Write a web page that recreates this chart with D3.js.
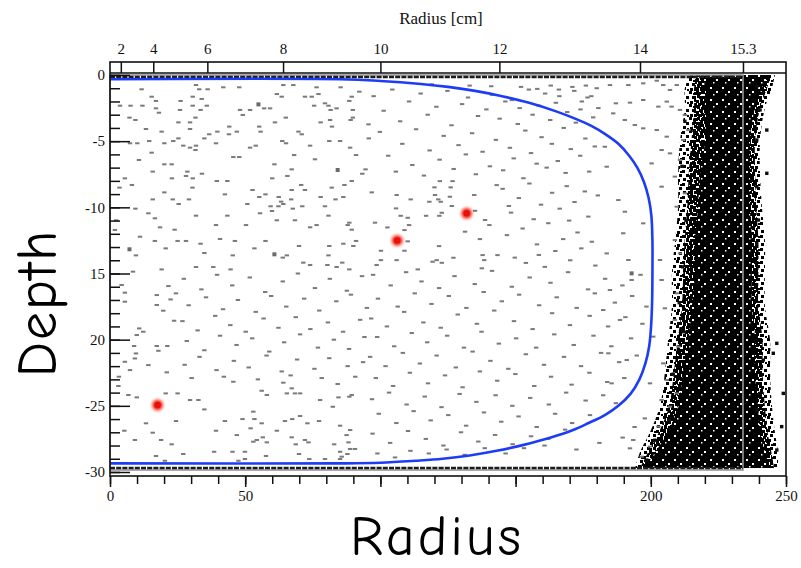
<!DOCTYPE html>
<html>
<head>
<meta charset="utf-8">
<script src="https://cdn.jsdelivr.net/npm/d3@7"></script>
<style>
  html, body { margin: 0; padding: 0; background: #fff; }
  svg { display: block; }
</style>
</head>
<body>
<svg id="chart" width="801" height="568"></svg>
<script>
// ---- axis definitions ----
const bottomTickValues = [0, 50, 100, 150, 200, 250];
const bottomTickLabels = ["0", "50", "", "", "200", "250"];
const depthTickValues = [0, -5, -10, -15, -20, -25, -30];
const depthTickLabels = ["0", "-5", "-10", "15", "20", "-25", "-30"];
const radiusCmTicks = [2, 4, 6, 8, 10, 12, 14, 15.3];
const radiusCmLabels = ["2", "4", "6", "8", "10", "12", "14", "15.3"];

// detector outline: r^2 = 15.3^2 cm^2, depth 0 .. -29.85
const detectorR2 = 234.09;
const detectorBottom = -29.85;

// ---- boundary curve (r^2, depth) ----
const curveR = [0, 85, 100, 115, 125, 135, 145, 155, 165, 172, 178, 183, 188, 192, 195, 197.5, 199.2, 200.2, 200.6, 200.6, 200.5, 200.1, 199.4, 198, 195.8, 192.5, 188, 183, 177, 171, 163, 153, 143, 133, 123, 113, 100, 85, 0];
const curveD = [-0.32, -0.32, -0.45, -0.68, -0.9, -1.2, -1.6, -2.1, -2.75, -3.3, -3.85, -4.45, -5.2, -6.1, -7.0, -8.1, -9.3, -10.6, -12.5, -15, -17, -19, -20.5, -21.8, -23.0, -24.1, -25.0, -25.7, -26.3, -26.85, -27.4, -27.95, -28.4, -28.75, -29.0, -29.15, -29.3, -29.35, -29.35];

// ---- highlighted events ----
const eventR = [17.6, 106.2, 131.9];
const eventD = [-24.94, -12.5, -10.45];

// ---- dense wall band (r^2 edges per depth) ----
const bandD = [0, -1, -2.5, -5, -7.5, -10, -12.5, -15, -17.5, -20, -22.5, -25, -27, -28.5, -29.7];
const bandOuterLeft = [214.5, 212.6, 212.6, 210.8, 210.1, 210.1, 209.0, 207.8, 207.8, 206.4, 205.2, 203.4, 199.7, 196.0, 194.2];
const bandMidLeft = [217.0, 216.0, 216.0, 215.0, 214.0, 213.5, 212.5, 212.0, 211.5, 210.0, 208.5, 206.8, 203.0, 199.0, 196.0];
const bandInnerLeft = [219.3, 220.0, 220.0, 220.0, 218.2, 217.5, 216.3, 216.3, 215.2, 213.8, 211.9, 210.1, 206.4, 201.6, 197.9];
const bandInnerRight = [243.3, 241.1, 238.5, 236.7, 236.7, 236.7, 237.4, 237.4, 237.4, 238.5, 238.5, 239.6, 240.4, 242.2, 244.1];
const bandMidRight = [244.5, 243.0, 240.4, 238.6, 238.6, 239.0, 239.8, 239.8, 239.8, 241.3, 241.3, 242.2, 243.2, 244.6, 245.6];
const bandOuterRight = [245.9, 244.8, 242.2, 240.4, 240.4, 241.1, 242.2, 242.2, 242.2, 244.1, 244.1, 244.8, 245.9, 247.0, 247.0];

// ---- rows of hits along the top and bottom faces ----
const faceRowD = [-0.15, -29.7];

// ---- isolated hits (r^2, depth) ----
const sparseHits = [
  [11.7,-1.08],[31.8,-0.76],[33.0,-1.08],[36.1,-1.08],[41.9,-0.93],[47.8,-0.93],[64.1,-0.76],[67.8,-0.76],[76.4,-0.93],[85.3,-0.93],[92.2,-1.26],[95.3,-0.38],
  [15.4,-1.64],[17.0,-1.96],[26.1,-1.96],[30.6,-1.64],[33.9,-1.81],[3.7,-2.32],[7.6,-2.32],[12.0,-2.32],[17.0,-2.52],[18.1,-2.85],[25.9,-2.64],[30.6,-2.32],[33.5,-2.64],[35.8,-2.32],
  [48.1,-2.64],[49.1,-3.02],[51.8,-2.64],[57.0,-2.52],[59.2,-2.52],[61.7,-1.44],[63.5,-1.64],[72.1,-1.64],[74.6,-1.64],[77.1,-1.44],[75.5,-2.32],[79.5,-2.14],[80.8,-2.32],[81.6,-2.64],[83.8,-2.52],[88.5,-1.96],[89.4,-1.64],[89.8,-2.64],
  [7.2,-3.22],[9.4,-3.4],[13.3,-4.08],[19.1,-4.28],[25.3,-3.58],[29.6,-3.58],[31.6,-3.22],[29.6,-4.08],[44.1,-3.9],[46.9,-4.28],[44.0,-4.48],[55.2,-3.9],[55.7,-4.28],[61.0,-3.58],[65.0,-3.22],[69.7,-4.28],[70.9,-4.48],[77.9,-3.58],[81.4,-3.4],[82.1,-3.9],[89.0,-3.4],[89.8,-3.22],[95.6,-3.73],
  [7.4,-5.16],[10.1,-5.16],[14.5,-4.99],[20.1,-5.16],[23.4,-4.99],[25.3,-4.79],[27.1,-5.34],[29.6,-5.49],[31.6,-5.67],[31.8,-5.34],[34.9,-4.79],[36.7,-4.48],[39.2,-5.16],[39.7,-4.28],[51.8,-5.49],[53.9,-5.34],[63.7,-4.99],[65.1,-5.16],[74.0,-5.34],[81.1,-4.99],[85.1,-4.99],[88.8,-5.49],[95.7,-4.79],
  [15.4,-5.87],[10.7,-6.42],[45.6,-6.2],[47.8,-6.2],[20.1,-6.75],[22.8,-6.75],[60.8,-6.75],[67.2,-7.13],[68.1,-6.05],[75.8,-6.37],[91.0,-6.05],[93.3,-7.46],[94.5,-7.13],
  [5.5,-7.81],[15.8,-7.3],[28.6,-7.3],[28.1,-7.63],[30.6,-7.81],[34.0,-7.46],[22.9,-7.81],[39.5,-8.01],[43.4,-8.01],[60.0,-7.81],[65.6,-7.63],[70.7,-8.31],[72.1,-8.69],[67.2,-8.69],[82.0,-8.51],[86.7,-8.31],[89.4,-8.01],
  [3.5,-8.51],[8.1,-8.31],[20.1,-8.87],[30.5,-8.51],[42.5,-9.02],[52.7,-8.69],[55.2,-9.22],[57.5,-9.02],[62.4,-9.22],[63.3,-9.57],[64.1,-9.75],[67.0,-9.4],[62.3,-9.92],[67.6,-10.1],[71.1,-9.92],[77.9,-9.22],[79.5,-9.92],[83.4,-9.4],[86.3,-9.22],[15.8,-9.4],[23.2,-9.4],[25.4,-9.75],[29.2,-9.4],[50.8,-9.75],[59.4,-9.92],[59.9,-10.28],
  [9.4,-10.1],[14.2,-10.45],[16.6,-10.83],[31.8,-10.63],[39.2,-11.34],[43.4,-10.63],[50.3,-11.34],[55.5,-10.45],[61.7,-10.98],[68.4,-10.98],[74.0,-11.51],[76.4,-11.34],[80.8,-10.63],[88.5,-11.16],[89.4,-11.69],[87.9,-11.34],[18.5,-11.51],[23.9,-11.69],[2.3,-10.98],[1.8,-11.71],
  [11.1,-12.22],[16.6,-12.54],[20.6,-13.1],[25.0,-12.54],[28.1,-12.54],[33.5,-12.75],[40.7,-12.39],[46.2,-12.54],[53.4,-13.1],[57.5,-12.54],[69.9,-12.92],[81.1,-12.92],[86.3,-12.75],[90.0,-12.92],[91.0,-12.54],[9.6,-13.63],[34.9,-13.45],[45.4,-13.63],[63.9,-13.8],[65.4,-13.63],[71.5,-14.18],[74.0,-14.36],[80.8,-13.63],[85.9,-14.18],[19.1,-14.69],[31.8,-14.51],[38.2,-14.51],[44.6,-14.69],[80.4,-14.36],[83.8,-14.51],[88.5,-14.69],[8.5,-14.86],
  [4.3,-15.87],[5.5,-16.45],[5.5,-17.13],[17.3,-17.38],[17.3,-16.63],[21.6,-15.95],[19.7,-17.81],[22.4,-16.96],[24.4,-16.5],[23.7,-18.57],[10.8,-19.15],[12.3,-19.4],[9.9,-19.65],[8.9,-20.48],[9.6,-21.04],[9.2,-21.42],[17.3,-20.48],[17.9,-20.84],[21.2,-20.48],[5.5,-21.67],[7.4,-22.3],[14.2,-21.92],[21.0,-22.47],[3.3,-22.8],
  [27.3,-15.4],[33.8,-16.2],[39.6,-15.1],[45.2,-15.9],[51.7,-15.3],[57.4,-16.4],[63.9,-15.6],[69.5,-15.0],[75.8,-16.1],[81.3,-15.4],[87.6,-16.3],[93.2,-15.2],
  [29.1,-17.4],[35.5,-16.8],[41.8,-17.7],[47.3,-17.0],[53.9,-17.9],[59.6,-16.7],[65.2,-17.5],[71.8,-16.9],[77.4,-17.8],[83.7,-17.1],[89.1,-16.6],[95.0,-17.6],
  [26.8,-18.6],[32.4,-19.3],[38.9,-18.2],[44.5,-18.9],[50.2,-19.4],[56.8,-18.4],[62.3,-19.1],[68.7,-18.3],[74.1,-19.2],[80.6,-18.7],[86.2,-19.4],[92.5,-18.5],
  [28.4,-20.1],[34.9,-20.8],[40.7,-19.7],[46.8,-20.4],[52.6,-19.9],[58.9,-20.9],[64.4,-20.2],[70.3,-19.6],[76.9,-20.6],[82.8,-20.0],[88.4,-20.7],[94.1,-19.8],
  [27.6,-21.9],[33.1,-21.3],[39.4,-22.3],[45.8,-21.6],[51.3,-22.1],[57.9,-21.2],[63.5,-22.4],[69.2,-21.5],[75.6,-22.2],[81.1,-21.4],[87.9,-22.0],[93.6,-21.7],
  [30.2,-22.9],[42.1,-22.8],[54.7,-23.0],[66.8,-22.7],[78.3,-22.9],[90.7,-22.8],
  [3.1,-23.5],[6.8,-24.18],[9.9,-24.36],[20.6,-24.06],[25.0,-24.06],[29.6,-24.56],[32.7,-24.56],[34.9,-25.27],[45.6,-23.18],[56.1,-23.86],[58.0,-24.18],[64.1,-23.25],[65.4,-24.06],[67.2,-23.68],[68.4,-24.06],[70.3,-24.06],[77.7,-24.56],[82.4,-25.07],[84.5,-24.36],[84.2,-23.35],[88.5,-24.31],[89.4,-24.18],
  [13.3,-26.32],[24.4,-26.15],[5.3,-26.88],[15.8,-27.03],[39.2,-26.88],[42.5,-26.15],[49.0,-26.0],[53.0,-25.44],[53.4,-26.0],[56.1,-26.32],[61.7,-26.88],[64.7,-26.15],[67.4,-26.0],[70.3,-25.77],[73.0,-26.32],[77.3,-26.15],[85.1,-26.5],[87.5,-27.21],[88.8,-26.83],
  [9.2,-27.58],[18.9,-27.58],[22.8,-27.91],[46.9,-27.21],[52.0,-26.7],[53.0,-27.71],[54.3,-27.58],[56.5,-27.38],[58.0,-27.76],[67.2,-27.38],[68.7,-27.91],[72.1,-27.58],[73.4,-27.76],[82.9,-27.91],[88.2,-27.76],[88.8,-28.26],[90.6,-28.26],
  [27.1,-28.64],[38.5,-28.47],[45.3,-28.47],[49.9,-28.47],[57.7,-28.79],[69.9,-28.64],[85.1,-28.47],[85.7,-28.84],[87.8,-28.64],[17.0,-28.79],[20.3,-29.15],[49.9,-29.02],[73.7,-29.02],[79.5,-29.02],[85.1,-29.02],[47.5,-29.15],
  [97.5,-1.6],[99.8,-4.3],[101.2,-2.7],[102.9,-6.1],[104.4,-1.1],[105.7,-7.3],[107.3,-3.5],[108.1,-5.2],[110.6,-2.0],[111.8,-6.8],[113.2,-4.1],[114.9,-1.4],[116.1,-7.6],[117.5,-3.0],[118.2,-5.7],[120.7,-2.4],[121.9,-6.4],[123.4,-4.6],[124.8,-1.2],[126.3,-3.8],[127.1,-7.1],[128.9,-5.3],[130.2,-2.2],[131.6,-6.0],[132.4,-1.7],[133.9,-4.4],[135.3,-7.5],[136.1,-3.1],[137.8,-5.8],[139.2,-2.6],
  [140.5,-6.9],[141.3,-1.5],[142.7,-4.9],[144.1,-3.3],[145.4,-7.2],[146.2,-2.0],[147.9,-5.5],[148.6,-1.9],[149.3,-6.3],[150.8,-3.7],[151.5,-2.5],[152.9,-7.8],[153.6,-4.2],[154.9,-1.1],[155.7,-5.9],[156.3,-3.0],[157.8,-6.7],[158.4,-2.3],[159.6,-4.7],[160.9,-1.4],[161.5,-7.0],[162.8,-3.4],[163.4,-5.2],[164.9,-2.1],[165.6,-6.5],[166.2,-1.6],[167.8,-4.0],[168.5,-7.4],[169.1,-2.8],[170.4,-5.6],
  [171.7,-1.2],[172.3,-3.6],[173.9,-6.1],[174.5,-2.0],[175.8,-4.8],[176.6,-1.7],[177.2,-7.3],[178.7,-3.2],[179.3,-5.4],[180.6,-2.5],[171.0,-0.9],[163.0,-0.8],[152.0,-0.9],[141.0,-0.85],[133.0,-0.8],[119.0,-0.7],[176.0,-0.8],[180.0,-1.0],[158.0,-1.05],[166.0,-1.1],[178.0,-1.6],[174.0,-2.6],
  [96.8,-8.87],[106.0,-9.07],[111.2,-9.4],[120.0,-8.49],[122.0,-8.02],[126.0,-8.49],[126.7,-8.02],[118.1,-9.58],[120.2,-9.07],[121.4,-9.4],[122.3,-9.58],[125.7,-9.2],[126.4,-9.9],[134.7,-9.07],[143.0,-8.32],
  [105.8,-10.08],[107.5,-10.64],[110.1,-10.79],[116.9,-10.64],[121.8,-10.64],[122.7,-10.41],[135.0,-10.26],[98.0,-11.16],[102.6,-11.52],[108.9,-11.72],[110.6,-11.34],[110.1,-12.57],[131.3,-11.84],[138.7,-10.96],[140.3,-11.34],[136.8,-12.4],
  [100.2,-13.28],[108.9,-13.28],[121.7,-12.93],[100.2,-13.99],[106.0,-13.99],[98.6,-14.36],[119.3,-14.11],[120.8,-13.99],[122.7,-14.19],[127.0,-13.81],[137.8,-13.61],[138.4,-13.99],[143.3,-13.61],[137.5,-14.61],[113.8,-14.69],
  [145.2,-8.6],[146.8,-12.1],[148.3,-10.4],[149.7,-13.8],[151.2,-9.3],[152.6,-11.6],[153.8,-14.2],[155.1,-8.2],[156.7,-10.9],[157.9,-12.8],[159.4,-9.8],[160.8,-14.5],[162.1,-11.2],[163.5,-8.9],[164.7,-13.3],[166.3,-10.1],[167.6,-12.4],[168.9,-8.4],[170.2,-14.0],[171.8,-9.6],[172.9,-11.9],[174.3,-13.1],[175.6,-8.8],[176.9,-10.7],[178.2,-12.6],[179.5,-14.4],[180.4,-9.1],[147.5,-9.9],[158.6,-13.6],[169.8,-11.0],
  [97.3,-15.1],[103.8,-15.9],[109.5,-14.9],[115.2,-15.6],[121.7,-16.1],[127.4,-15.2],[134.9,-15.8],[141.3,-14.8],[148.6,-16.0],[155.2,-15.3],[162.9,-15.7],[169.4,-14.9],[176.8,-16.2],[183.1,-15.4],[189.5,-15.9],[196.2,-15.1],
  [99.1,-16.9],[106.4,-17.5],[112.7,-16.5],[118.9,-17.3],[125.3,-16.7],[131.8,-17.6],[138.2,-16.4],[144.9,-17.1],[151.3,-16.6],[158.7,-17.4],[165.2,-16.8],[172.6,-17.6],[179.3,-16.5],[186.7,-17.2],[193.1,-16.7],[198.4,-17.5],
  [96.6,-18.4],[102.4,-19.0],[108.8,-17.9],[115.9,-18.7],[122.3,-19.1],[128.6,-18.1],[135.7,-18.8],[142.1,-17.8],[149.4,-18.6],[156.3,-19.2],[163.5,-18.0],[170.1,-18.9],[177.4,-18.2],[184.2,-19.0],[190.6,-18.3],[196.9,-18.8],
  [98.8,-19.8],[105.1,-20.5],[111.6,-19.5],[117.3,-20.2],[124.7,-19.7],[130.9,-20.6],[137.4,-19.4],[143.8,-20.3],[150.2,-19.9],[157.6,-20.6],[164.3,-19.6],[171.5,-20.4],[178.8,-19.7],[185.4,-20.5],[192.7,-19.9],
  [96.2,-21.3],[101.9,-22.0],[108.3,-21.0],[114.6,-21.8],[120.8,-21.2],[127.9,-22.1],[134.1,-20.9],[140.7,-21.6],[147.3,-22.2],[153.8,-21.1],[160.5,-21.9],[167.9,-21.3],[174.2,-22.0],[181.6,-21.0],[188.3,-21.7],[194.8,-21.2],
  [98.3,-22.9],[104.7,-23.5],[110.9,-22.5],[117.6,-23.3],[123.9,-22.7],[130.4,-23.6],[136.8,-22.4],[143.2,-23.1],[149.9,-22.6],[156.9,-23.5],[163.1,-22.8],[170.7,-23.4],[177.3,-22.5],[183.9,-23.2],[190.2,-22.9],
  [96.9,-24.5],[103.2,-24.0],[109.7,-24.9],[116.4,-24.3],[122.6,-25.1],[129.3,-24.1],[135.5,-24.7],[142.6,-24.2],[148.8,-25.0],[155.4,-24.4],[162.3,-24.9],[168.7,-24.0],[175.9,-24.6],[182.4,-24.2],[187.1,-24.8],
  [99.4,-25.6],[105.9,-26.3],[112.3,-25.4],[118.6,-26.1],[125.1,-25.7],[131.7,-26.5],[138.3,-25.5],[144.7,-26.2],[151.1,-25.8],[157.8,-26.6],[164.6,-25.6],[170.9,-26.3],[177.5,-25.7],
  [97.1,-27.1],[103.6,-27.8],[110.2,-26.9],[116.8,-27.5],[123.3,-28.0],[129.8,-27.0],[136.2,-27.7],[142.4,-27.2],[148.9,-27.9],[155.7,-27.3],[162.1,-27.5],[168.3,-26.8],
  [98.9,-28.6],[105.4,-28.9],[111.1,-28.4],[117.9,-28.6],[124.5,-28.3],[131.2,-28.7],[138.6,-28.2],[146.3,-28.6],[153.1,-28.2],[160.7,-28.0],[172.5,-28.3],[181.0,-27.8],[189.6,-27.4],[194.0,-26.6],
  [184.9,-0.76],[191.7,-0.76],[197.2,-0.63],[202.2,-0.43],[204.6,-0.76],[207.1,-1.13],[209.6,-0.76],[187.1,-2.14],[192.3,-2.09],[197.2,-1.89],[202.8,-2.39],[205.9,-2.01],[207.7,-2.39],[210.8,-2.64],[212.6,-3.02],
  [186.1,-2.9],[190.4,-3.4],[194.1,-3.78],[197.2,-4.03],[202.2,-4.16],[205.9,-4.66],[183.0,-5.42],[200.3,-6.68],[204.0,-5.67],[207.1,-5.92],[208.9,-7.68],[204.0,-8.44],[212.0,-4.91],[213.9,-4.16],[210.8,-6.42],[212.6,-8.94],[209.6,-9.95],
  [190.4,-10.33],[197.2,-11.21],[208.9,-12.47],[203.4,-13.98],[210.8,-13.48],[192.9,-15.49],[204.0,-15.49],[209.6,-16.5],[205.2,-17.63],[208.9,-18.51],[200.9,-19.77],[210.2,-20.53],[204.6,-21.79],[199.7,-23.3],[205.9,-23.05],[209.6,-24.06],[204.0,-24.56],[207.1,-25.06],[197.8,-25.95],[202.8,-26.57],[193.5,-27.58],[199.7,-28.08],[192.3,-28.21],[196.6,-28.84],
  [183.7,-6.93],[188.0,-9.45],[189.8,-11.96],[183.7,-13.48],[191.7,-13.98],[184.9,-16.25],[182.4,-17.76],[188.6,-18.51],[184.3,-21.03],[191.1,-21.54],[185.5,-23.3]
];
const largeHits = [[54.9,-2.22],[84.2,-7.18],[7.2,-13.17],[60.8,-13.55],[192.9,-14.99]];

// hits just outside the dense wall band
const wallHits = [
  [239.2,-0.88],[241.6,-1.38],[240.4,-2.64],[242.9,-4.16],[239.2,-4.91],[242.9,-7.43],[239.2,-8.44],[239.8,-10.96],[239.2,-12.72],[246.6,-20.28],[249.0,-24.06],[248.4,-26.57],[246.6,-28.34],[245.3,-21.03],[241.6,-21.54],[240.4,-24.06],[239.2,-25.31],
  [212.6,-3.5],[211.5,-6.9],[213.0,-11.0],[211.8,-14.5],[210.5,-17.2],[212.2,-19.4],[208.3,-22.6],[206.8,-26.1],[201.5,-27.6],[198.5,-29.1]
];

// ---- drawing ----
const svg = d3.select("#chart");
const x = d3.scaleLinear().domain([0, 250]).range([110, 786]);
const y = d3.scaleLinear().domain([0, -30]).range([75, 472]);
// top axis in cm: position follows r^2
const xcm = d3.scalePow().exponent(2).domain([0, Math.sqrt(250)]).range([110, 786]);

const frameTop = 73, frameBottom = 476, stripTop = 62;
const fontSerif = "'Liberation Serif', 'Times New Roman', serif";

const defs = svg.append("defs");
defs.append("filter").attr("id", "soft").attr("x", "-50%").attr("y", "-50%").attr("width", "200%").attr("height", "200%")
  .append("feGaussianBlur").attr("stdDeviation", 0.45);
defs.append("filter").attr("id", "glow").attr("x", "-100%").attr("y", "-100%").attr("width", "300%").attr("height", "300%")
  .append("feGaussianBlur").attr("stdDeviation", 1.4);

// speckle textures for the dense band
function dotPattern(id, w, h, bg, fg, dots) {
  const p = defs.append("pattern").attr("id", id).attr("patternUnits", "userSpaceOnUse").attr("width", w).attr("height", h);
  if (bg) p.append("rect").attr("width", w).attr("height", h).attr("fill", bg);
  dots.forEach(s => p.append("rect").attr("x", s[0]).attr("y", s[1]).attr("width", s[2]).attr("height", s[2]).attr("fill", fg));
}
dotPattern("sparseSpeckle", 13, 13, null, "#000",
  [[0,0,3],[6,1,3],[10,5,3],[3,5,3],[7,9,3],[1,10,3],[11,11,2],[4,2,2]]);
dotPattern("denseSpeckle", 11, 11, null, "#000",
  [[0,0,3],[3,1,3],[7,0,3],[1,4,3],[5,4,3],[8,3,3],[0,8,3],[4,7,3],[8,8,3],[6,10,2]]);
dotPattern("coreHoles", 12, 12, "#000", "#fff",
  [[2,3,2],[8,7,2],[5,10,1.5]]);

const plot = svg.append("g").attr("filter", "url(#soft)");

// dense wall band: sparse fringe, dense fringe, then core
function bandArea(left, right) {
  return d3.area().y((d, i) => y(bandD[i])).x0((d, i) => x(left[i])).x1((d, i) => x(right[i])).curve(d3.curveCatmullRom)(bandD);
}
plot.append("path").attr("d", bandArea(bandOuterLeft, bandOuterRight)).attr("fill", "url(#sparseSpeckle)");
plot.append("path").attr("d", bandArea(bandMidLeft, bandMidRight)).attr("fill", "url(#denseSpeckle)");
plot.append("path").attr("d", bandArea(bandInnerLeft, bandInnerRight)).attr("fill", "url(#coreHoles)");

// isolated hits
plot.append("g").selectAll("rect").data(sparseHits).join("rect")
  .attr("x", d => x(d[0]) - 2.2).attr("y", d => y(d[1]) - 1)
  .attr("width", 4.4).attr("height", 2).attr("fill", "#7a7a7a");
plot.append("g").selectAll("rect").data(largeHits).join("rect")
  .attr("x", d => x(d[0]) - 2).attr("y", d => y(d[1]) - 2)
  .attr("width", 4).attr("height", 4).attr("fill", "#6a6a6a");
plot.append("g").selectAll("rect").data(wallHits).join("rect")
  .attr("x", d => x(d[0]) - 1.7).attr("y", d => y(d[1]) - 1.7)
  .attr("width", 3.4).attr("height", 3.4).attr("fill", "#111");

// detector outline
plot.append("rect")
  .attr("x", x(0)).attr("y", y(0))
  .attr("width", x(detectorR2) - x(0)).attr("height", y(detectorBottom) - y(0))
  .attr("fill", "none").attr("stroke", "#999").attr("stroke-width", 1.6);

// rows of hits on the top and bottom faces
plot.append("g").selectAll("line").data(faceRowD).join("line")
  .attr("x1", x(0)).attr("x2", x(detectorR2))
  .attr("y1", d => y(d)).attr("y2", d => y(d))
  .attr("stroke", "#1a1a1a").attr("stroke-width", 2.6).attr("stroke-dasharray", "5,1.2");

// boundary curve
const curveLine = d3.line().x((d, i) => x(curveR[i])).y((d, i) => y(curveD[i])).curve(d3.curveCatmullRom);
plot.append("path").attr("d", curveLine(curveR))
  .attr("fill", "none").attr("stroke", "#1f3cf5").attr("stroke-width", 2.6);

// highlighted events
const ev = svg.append("g");
ev.selectAll("circle.glow").data(eventR).join("circle").attr("class", "glow")
  .attr("cx", (d, i) => x(d)).attr("cy", (d, i) => y(eventD[i])).attr("r", 5.5)
  .attr("fill", "#ff2a1a").attr("filter", "url(#glow)");
ev.selectAll("circle.dot").data(eventR).join("circle").attr("class", "dot")
  .attr("cx", (d, i) => x(d)).attr("cy", (d, i) => y(eventD[i])).attr("r", 3.2)
  .attr("fill", "#e0140c");

// ---- frames ----
const frame = svg.append("g").attr("fill", "none").attr("stroke", "#111").attr("stroke-width", 1.6);
frame.append("rect").attr("x", x(0)).attr("y", stripTop).attr("width", x(250) - x(0)).attr("height", frameBottom - stripTop);
frame.append("line").attr("x1", x(0)).attr("x2", x(250)).attr("y1", frameTop).attr("y2", frameTop);

// ---- axes ----
function styleAxis(g) {
  g.select(".domain").remove();
  g.selectAll(".tick line").attr("stroke", "#111").attr("stroke-width", 1.5);
  g.selectAll(".tick text").attr("font-family", fontSerif).attr("font-size", 15).attr("fill", "#111");
}

// left: minor ticks each unit, major ticks with labels
svg.append("g").attr("transform", `translate(${x(0)},0)`)
  .call(d3.axisLeft(y).tickValues(d3.range(0, -31, -1)).tickSize(-10).tickFormat(""))
  .call(styleAxis);
svg.append("g").attr("transform", `translate(${x(0)},0)`)
  .call(d3.axisLeft(y).tickValues(depthTickValues).tickSize(-20).tickPadding(5)
    .tickFormat((d, i) => depthTickLabels[i]))
  .call(styleAxis);

// bottom: minor ticks every 10, labelled majors
svg.append("g").attr("transform", `translate(0,${frameBottom})`)
  .call(d3.axisBottom(x).tickValues(d3.range(0, 251, 10)).tickSize(8).tickFormat(""))
  .call(styleAxis);
svg.append("g").attr("transform", `translate(0,${frameBottom})`)
  .call(d3.axisBottom(x).tickValues(bottomTickValues).tickSize(11).tickPadding(3)
    .tickFormat((d, i) => bottomTickLabels[i]))
  .call(styleAxis);

// top: radius in cm
svg.append("g").attr("transform", `translate(0,${frameTop})`)
  .call(d3.axisTop(xcm).tickValues(radiusCmTicks).tickSize(frameTop - stripTop).tickPadding(8)
    .tickFormat((d, i) => radiusCmLabels[i]))
  .call(styleAxis);

svg.append("text").attr("x", 441).attr("y", 24).attr("text-anchor", "middle")
  .attr("font-family", fontSerif).attr("font-size", 17).attr("fill", "#111")
  .text("Radius [cm]");

// ---- big axis titles ----
const titleFont = "'Comic Sans MS', 'Comic Neue', 'Noto Sans', sans-serif";
svg.append("text").attr("transform", "translate(56,303) rotate(-90)")
  .attr("text-anchor", "middle").attr("font-family", titleFont).attr("font-size", 56)
  .attr("letter-spacing", 2).attr("fill", "#000")
  .text("Depth");
svg.append("text").attr("x", 437).attr("y", 555).attr("text-anchor", "middle")
  .attr("font-family", titleFont).attr("font-size", 56)
  .attr("letter-spacing", 3).attr("fill", "#000")
  .text("Radius");
</script>
</body>
</html>
